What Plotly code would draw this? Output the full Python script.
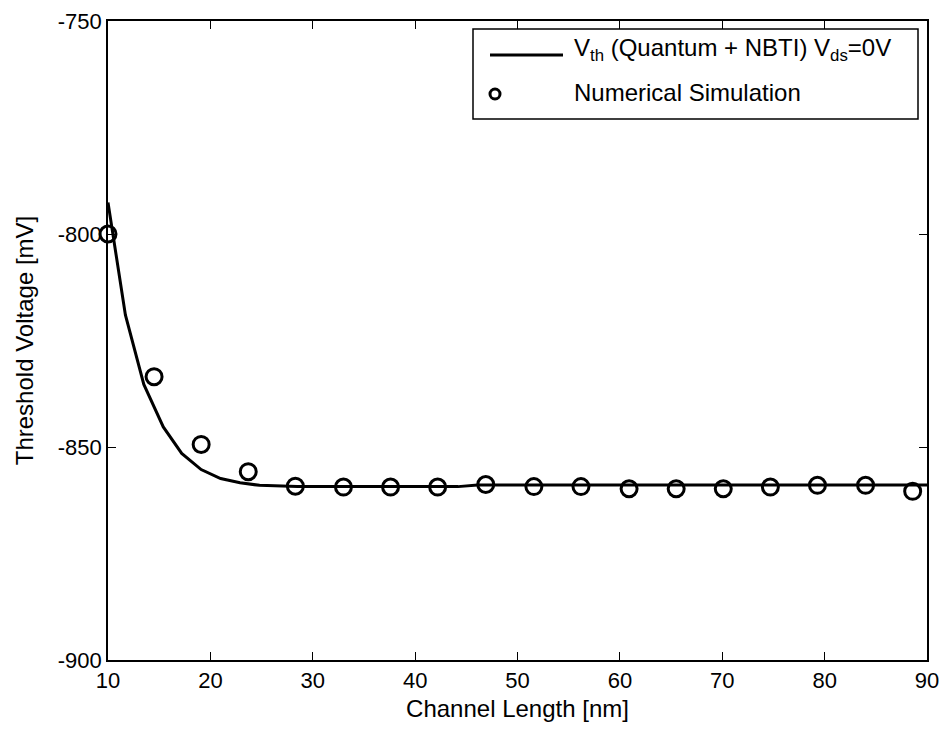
import plotly.graph_objects as go

# Analytical model line
L_line = [10, 11.7, 13.5, 15.4, 17.2, 19.1, 21.0, 22.9, 24.8, 26.7, 28.5, 44.2, 46.1, 90]
V_line = [-792.6, -819.0, -835.3, -845.3, -851.5, -855.3, -857.4, -858.4, -859.0, -859.2, -859.3, -859.3, -858.9, -858.9]

# Numerical simulation points
L_sim = [10, 14.5, 19.1, 23.7, 28.3, 33.0, 37.6, 42.2, 46.9, 51.6, 56.2, 60.9, 65.5, 70.1, 74.7, 79.3, 84.0, 88.6]
V_sim = [-800.0, -833.5, -849.4, -855.8, -859.2, -859.4, -859.4, -859.4, -858.8, -859.3, -859.3, -859.8, -859.8,
         -859.8, -859.4, -859.0, -859.0, -860.4]

x_ticks = [10, 20, 30, 40, 50, 60, 70, 80, 90]
y_ticks = [-900, -850, -800, -750]

FONT = "Liberation Sans, Arial, sans-serif"
OFF = 8  # page body margin
# desired plot area in screen pixels
X0, X1, Y0, Y1 = 108, 927, 21, 660
W, H = 948 - OFF, 731 - OFF
L, T = X0 - OFF, Y0 - OFF
R, B = W - (X1 - OFF), H - (Y1 - OFF)
PW, PH = X1 - X0, Y1 - Y0


def px(x):
    return (x - X0) / PW


def py(y):
    return (Y1 - y) / PH


fig = go.Figure()
fig.add_trace(go.Scatter(x=L_line, y=V_line, mode="lines", name="V<sub>th</sub> (Quantum + NBTI) V<sub>ds</sub>=0V",
                         line=dict(color="black", width=3), showlegend=False))
fig.add_trace(go.Scatter(x=L_sim, y=V_sim, mode="markers", name="Numerical Simulation",
                         marker=dict(symbol="circle-open", size=16, color="black", line=dict(width=3, color="black")),
                         showlegend=False, cliponaxis=False))

axis_common = dict(showgrid=False, zeroline=False, showline=True, linecolor="black", linewidth=1.5,
                   mirror="ticks", ticks="inside", ticklen=8, tickwidth=1.2, tickcolor="black", automargin=False,
                   ticklabeloverflow="allow",
                   tickfont=dict(family=FONT, size=22, color="black"))

fig.update_xaxes(range=[10, 90], tickvals=x_ticks, ticktext=[str(v) for v in x_ticks],
                 title=dict(text="Channel Length [nm]", font=dict(family=FONT, size=24, color="black"), standoff=8),
                 **axis_common)
fig.update_yaxes(range=[-900, -750], tickvals=y_ticks, ticktext=[str(v) for v in y_ticks],
                 title=dict(text="Threshold Voltage [mV]", font=dict(family=FONT, size=24, color="black"), standoff=17),
                 **axis_common)

# Custom legend
shapes = [
    dict(type="rect", xref="paper", yref="paper", x0=px(473), x1=px(918), y0=py(119), y1=py(29),
         line=dict(color="black", width=1.5), fillcolor="white", layer="above"),
    dict(type="line", xref="paper", yref="paper", x0=px(490), x1=px(563), y0=py(55), y1=py(55),
         line=dict(color="black", width=3), layer="above"),
    dict(type="circle", xref="paper", yref="paper", x0=px(490), x1=px(500), y0=py(99), y1=py(89),
         line=dict(color="black", width=3), layer="above"),
]
annotations = [
    dict(xref="paper", yref="paper", x=px(572), y=py(50), xanchor="left", yanchor="middle", showarrow=False,
         text="V<sub>th</sub> (Quantum + NBTI) V<sub>ds</sub>=0V", font=dict(family=FONT, size=24, color="black")),
    dict(xref="paper", yref="paper", x=px(572), y=py(92), xanchor="left", yanchor="middle", showarrow=False,
         text="Numerical Simulation", font=dict(family=FONT, size=24, color="black")),
]

fig.update_layout(width=W, height=H, margin=dict(l=L, r=R, t=T, b=B, autoexpand=False),
                  plot_bgcolor="white", paper_bgcolor="white",
                  shapes=shapes, annotations=annotations, showlegend=False,
                  font=dict(family=FONT, size=22, color="black"))

fig.write_html("out.html")
